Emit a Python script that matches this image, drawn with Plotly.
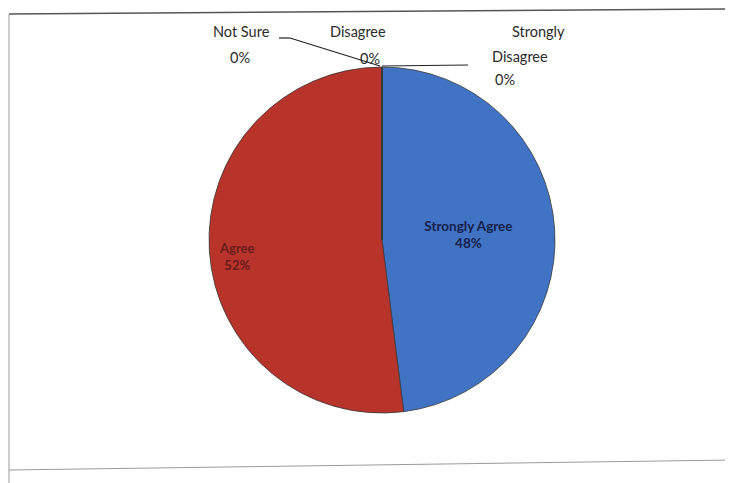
import plotly.graph_objects as go

labels = ["Strongly Agree", "Agree", "Not Sure", "Disagree", "Strongly Disagree"]
values = [48, 52, 0, 0, 0]
colors = ["#4173c5", "#b8332a", "#8fb04f", "#7d5fa0", "#46a5c0"]

# page body has an 8px margin; figure is sized to fill the rest of the window
OFF = 8
W, H = 733 - OFF, 483 - OFF
total = sum(values)
pcts = [round(v * 100 / total) for v in values]

texts = [f"<b>{l}<br>{p}%</b>" if v > 0 and l == "Strongly Agree" else "" for l, v, p in zip(labels, values, pcts)]

cx, cy, r = 382, 240, 173

def px(x, y):
    return (x - OFF) / W, 1 - (y - OFF) / H

dx0, dy1 = px(cx - r, cy - r)
dx1, dy0 = px(cx + r, cy + r)

fig = go.Figure(go.Pie(
    labels=labels, values=values, sort=False, direction="clockwise", rotation=0,
    marker=dict(colors=colors, line=dict(color="#3a3a3a", width=0.8)),
    text=texts, textinfo="text", textposition="inside", insidetextorientation="horizontal",
    textfont=dict(family="Lato", size=13.5, color="#16204a"),
    showlegend=False, hoverinfo="label+percent",
    domain=dict(x=[dx0, dx1], y=[dy0, dy1]),
))

anns = []
def ann(x, y, t, size=13, color="#2a2a2a"):
    ax, ay = px(x, y)
    anns.append(dict(x=ax, y=ay, xref="paper", yref="paper", text=t, showarrow=False,
                     font=dict(family="Lato", size=size, color=color), xanchor="center", yanchor="middle"))

# Agree label (dark, low contrast)
ann(237, 256, f"<b>{labels[1]}<br>{pcts[1]}%</b>", size=13, color="#6a1c1c")
# zero-value labels
ann(241, 32, labels[2], size=14.5)
ann(240, 57, f"{pcts[2]}%", size=14.5)
ann(358, 32, labels[3], size=14.5)
ann(370, 58, f"{pcts[3]}%", size=14.5)
ann(538, 32, "Strongly", size=14.5)
ann(520, 56, "Disagree", size=14.5)
ann(505, 80, f"{pcts[4]}%", size=14.5)

shapes = []
def line(x0, y0, x1, y1, color="#222222", width=1.2):
    a0, b0 = px(x0, y0)
    a1, b1 = px(x1, y1)
    shapes.append(dict(type="line", xref="paper", yref="paper", x0=a0, y0=b0, x1=a1, y1=b1,
                       line=dict(color=color, width=width)))

# leader lines
line(279, 38, 290, 38)
line(290, 38, 380, 66)
line(382, 66, 468, 65)
# frame
line(9, 14, 733, 9, color="#555555", width=1.5)
line(9, 14, 9, 483, color="#9a9a9a", width=1)
line(9, 470, 733, 460, color="#9a9a9a", width=1)
line(729, 10, 729, 460, color="#e2e2e2", width=1)

fig.update_layout(
    width=W, height=H, margin=dict(l=0, r=0, t=0, b=0),
    paper_bgcolor="#ffffff", plot_bgcolor="#ffffff",
    annotations=anns, shapes=shapes,
)

fig.write_html("out.html")
